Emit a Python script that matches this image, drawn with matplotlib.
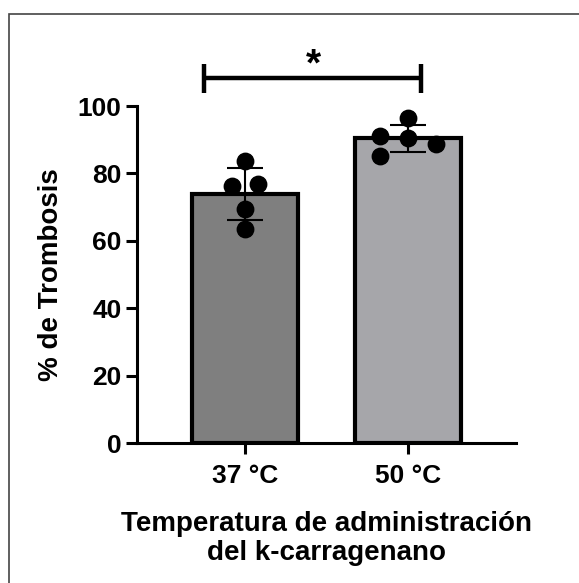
import numpy as np
import matplotlib
matplotlib.use("Agg")
import matplotlib.pyplot as plt
from matplotlib.patches import Rectangle

# data
groups = ["37 °C", "50 °C"]
points_37 = [83.7, 76.3, 76.9, 69.4, 63.5]
points_50 = [96.4, 91.1, 90.5, 88.7, 85.2]
# horizontal offsets of the dots inside each bar (in category units)
jitter_37 = [0.0, -0.08, 0.08, 0.0, 0.0]
jitter_50 = [0.0, -0.17, 0.0, 0.17, -0.17]
bar_colors = ["#7f7f7f", "#a6a6aa"]
yticks = [0, 20, 40, 60, 80, 100]

plt.rcParams['font.family'] = ['Liberation Sans', 'DejaVu Sans']
plt.rcParams['font.weight'] = 'bold'

fig = plt.figure(figsize=(5.79, 5.83), dpi=100)
ax = fig.add_axes([0.2366, 0.2401, 0.6546, 0.578])

all_points = [points_37, points_50]
all_jitter = [jitter_37, jitter_50]
x = np.arange(len(groups))
means = [np.mean(p) for p in all_points]
sds = [np.std(p, ddof=1) for p in all_points]

ax.bar(x, means, width=0.65, color=bar_colors, edgecolor='black', linewidth=3, zorder=2)
ax.errorbar(x, means, yerr=sds, fmt='none', ecolor='black', elinewidth=1.5,
            capsize=13, capthick=1.5, zorder=4)
for i in range(len(groups)):
    ax.scatter(x[i] + np.array(all_jitter[i]), all_points[i], s=140, color='black', zorder=5,
               clip_on=False)

ax.set_xlim(-0.66, 1.66)
ax.set_ylim(0, 100)
ax.set_yticks(yticks)
ax.set_xticks(x)
ax.set_xticklabels(groups)
ax.tick_params(axis='both', width=2.2, length=8, labelsize=19)
ax.tick_params(axis='y', pad=3)
ax.tick_params(axis='x', pad=7)
for lab in ax.get_xticklabels() + ax.get_yticklabels():
    lab.set_fontweight('bold')

for side in ['top', 'right']:
    ax.spines[side].set_visible(False)
for side in ['left', 'bottom']:
    ax.spines[side].set_linewidth(2.2)

ax.set_ylabel("% de Trombosis", fontsize=20, fontweight='bold', labelpad=10)
ax.set_xlabel("Temperatura de administración\ndel k-carragenano", fontsize=20,
              fontweight='bold', labelpad=17, linespacing=1.15)

# significance bracket
x1, x2, yb = -0.247, 1.08, 108.3
ax.plot([x1, x2], [yb, yb], color='black', linewidth=3.2, clip_on=False, solid_capstyle='butt')
ax.plot([x1, x1], [103.8, 112.4], color='black', linewidth=3.2, clip_on=False, solid_capstyle='butt')
ax.plot([x2, x2], [103.8, 112.4], color='black', linewidth=3.2, clip_on=False, solid_capstyle='butt')
ax.text(0.42, 106.8, "*", ha='center', va='bottom', fontsize=28, fontweight='bold')

# thin frame around the figure
fig.patches.append(Rectangle((9 / 579, -0.05), 1.2, 1 - 14 / 583 + 0.05, transform=fig.transFigure,
                             fill=False, edgecolor='#444444', linewidth=1.2))

fig.savefig("out.png", dpi=100)
